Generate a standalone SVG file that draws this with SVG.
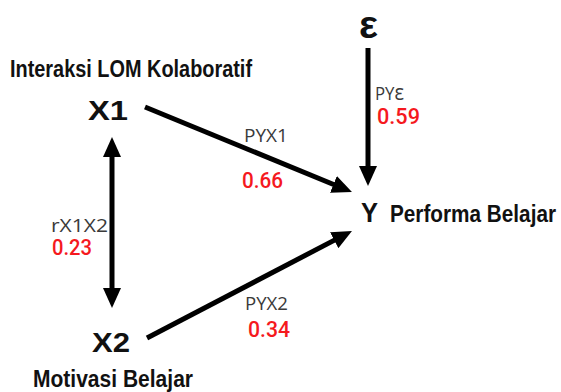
<svg xmlns="http://www.w3.org/2000/svg" width="561" height="392" viewBox="0 0 561 392">
  <style>
    .node { font-family: "Liberation Sans", Arial, sans-serif; font-weight: bold; fill: #111; }
    .caption { font-family: "Liberation Sans", Arial, sans-serif; font-weight: bold; fill: #111; font-size: 23px; }
    .path-name { font-family: "Open Sans", "Liberation Sans", sans-serif; fill: #3a3a3a; font-size: 18.5px; }
    .coef { font-family: Roboto, "Liberation Sans", sans-serif; font-weight: 500; fill: #f5191e; font-size: 22px; }
    .link { stroke: #000; stroke-width: 5; fill: none; }
  </style>
  <defs>
    <marker id="head" viewBox="0 0 20 18" markerUnits="userSpaceOnUse" markerWidth="20" markerHeight="18" refX="10" refY="9" orient="auto-start-reverse">
      <path d="M0,0 L20,9 L0,18 z" fill="#000"/>
    </marker>
  </defs>
  <rect width="561" height="392" fill="#fff"/>

  <g id="connectors">
    <line class="link" x1="145" y1="107" x2="342.7" y2="188.2" marker-end="url(#head)"/>
    <line class="link" x1="147" y1="338" x2="343.1" y2="235.6" marker-end="url(#head)"/>
    <line class="link" x1="368" y1="48" x2="368" y2="176" marker-end="url(#head)"/>
    <line class="link" x1="112" y1="147" x2="112" y2="298" marker-start="url(#head)" marker-end="url(#head)"/>
    <text class="path-name" x="244" y="142" textLength="44" lengthAdjust="spacingAndGlyphs">PYX1</text>
    <text class="coef" x="242" y="188" textLength="41" lengthAdjust="spacingAndGlyphs">0.66</text>
    <text class="path-name" x="245" y="310" textLength="43" lengthAdjust="spacingAndGlyphs">PYX2</text>
    <text class="coef" x="248" y="337" textLength="42" lengthAdjust="spacingAndGlyphs">0.34</text>
    <text class="path-name" x="375" y="100" textLength="29" lengthAdjust="spacingAndGlyphs">PY<tspan font-size="22">ε</tspan></text>
    <text class="coef" x="377" y="124" textLength="43" lengthAdjust="spacingAndGlyphs">0.59</text>
    <text class="path-name" x="51" y="232" textLength="57" lengthAdjust="spacingAndGlyphs">rX1X2</text>
    <text class="coef" x="52" y="255" textLength="40" lengthAdjust="spacingAndGlyphs">0.23</text>
  </g>

  <g id="node-x1">
    <text class="caption" x="10" y="77" textLength="242" lengthAdjust="spacingAndGlyphs">Interaksi LOM Kolaboratif</text>
    <text class="node" x="88" y="120" font-size="28" textLength="40" lengthAdjust="spacingAndGlyphs">X1</text>
  </g>

  <g id="node-x2">
    <text class="node" x="92" y="352" font-size="28" textLength="38" lengthAdjust="spacingAndGlyphs">X2</text>
    <text class="caption" x="33" y="387" textLength="160" lengthAdjust="spacingAndGlyphs">Motivasi Belajar</text>
  </g>

  <g id="node-y">
    <text class="node" x="361" y="222" font-size="28" textLength="17" lengthAdjust="spacingAndGlyphs">Y</text>
    <text class="caption" x="390" y="222" textLength="166" lengthAdjust="spacingAndGlyphs">Performa Belajar</text>
  </g>

  <g id="node-epsilon">
    <text class="node" x="359" y="38" font-size="38" textLength="19" lengthAdjust="spacingAndGlyphs">ε</text>
  </g>
</svg>
